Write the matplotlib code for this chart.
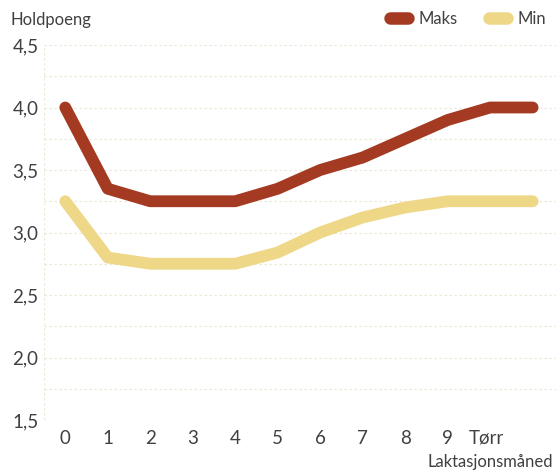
import matplotlib
matplotlib.use("Agg")
import matplotlib.pyplot as plt
from matplotlib.lines import Line2D

# Lactation months, with the dry period ("Tørr") held over two steps
months = [0, 1, 2, 3, 4, 5, 6, 7, 8, 9, 10, 11]
month_labels = ["0", "1", "2", "3", "4", "5", "6", "7", "8", "9", "Tørr"]
maks = [4.0, 3.35, 3.25, 3.25, 3.25, 3.35, 3.5, 3.6, 3.75, 3.9, 4.0, 4.0]
minimum = [3.25, 2.8, 2.75, 2.75, 2.75, 2.84, 3.0, 3.12, 3.2, 3.25, 3.25, 3.25]
y_ticks = [1.5, 2.0, 2.5, 3.0, 3.5, 4.0, 4.5]
y_labels = ["1,5", "2,0", "2,5", "3,0", "3,5", "4,0", "4,5"]

MAKS_COLOR = "#A43A22"
MIN_COLOR = "#EED888"
TEXT_COLOR = "#404040"
GRID_COLOR = "#ebe8d8"

plt.rcParams["font.family"] = ["Lato", "DejaVu Sans"]

fig = plt.figure(figsize=(5.56, 4.72), dpi=100)
ax = fig.add_axes([44 / 556, 1 - 420 / 472, 1 - 44 / 556, (420 - 45) / 472])

# faint dotted guide lines every quarter point
for v in [1.5 + 0.25 * i for i in range(13)]:
    ax.axhline(v, color=GRID_COLOR, lw=0.9, ls=(0, (2, 2)), zorder=0)
ax.axvline(-0.5, color=GRID_COLOR, lw=0.9, ls=(0, (2, 2)), zorder=0)

ax.plot(months, minimum, color=MIN_COLOR, lw=8.5, solid_capstyle="round",
        solid_joinstyle="round", zorder=2)
ax.plot(months, maks, color=MAKS_COLOR, lw=8.5, solid_capstyle="round",
        solid_joinstyle="round", zorder=3)

ax.set_xlim(-0.5, 11.55)
ax.set_ylim(1.5, 4.5)
ax.set_yticks(y_ticks)
ax.set_yticklabels(y_labels)
ax.set_xticks([0, 1, 2, 3, 4, 5, 6, 7, 8, 9, 9.9])
ax.set_xticklabels(month_labels)
ax.tick_params(axis="both", length=0, colors=TEXT_COLOR, labelsize=13.5)
ax.tick_params(axis="y", pad=4)
ax.tick_params(axis="x", pad=7)
for s in ax.spines.values():
    s.set_visible(False)

fig.text(11 / 556, 1 - 20 / 472, "Holdpoeng", ha="left", va="center",
         fontsize=12, color=TEXT_COLOR)
fig.text(553 / 556, 1 - 462 / 472, "Laktasjonsmåned", ha="right", va="center",
         fontsize=12, color=TEXT_COLOR)

handles = [
    Line2D([0], [0], color=MAKS_COLOR, lw=9, solid_capstyle="round"),
    Line2D([0], [0], color=MIN_COLOR, lw=9, solid_capstyle="round"),
]
fig.legend(handles, ["Maks", "Min"], loc="center right",
           bbox_to_anchor=(1.0, 1 - 19 / 472), ncol=2, frameon=False,
           fontsize=12, handlelength=1.1, handletextpad=0.6,
           columnspacing=1.9, labelcolor=TEXT_COLOR, borderaxespad=0.2)

fig.savefig("out.png", dpi=100, facecolor="white")
